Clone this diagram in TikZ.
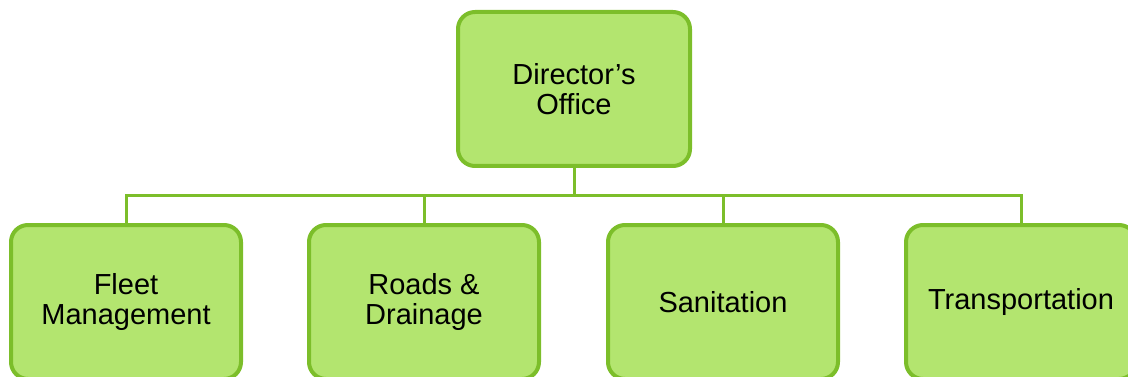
\documentclass[tikz,border=0pt]{standalone}
\usepackage{fontspec}
\setmainfont{Liberation Sans}
\usepackage{xcolor}
\usetikzlibrary{positioning}

\definecolor{boxfill}{RGB}{179,229,111}
\definecolor{boxline}{RGB}{124,190,42}

\begin{document}
\begin{tikzpicture}[
  x=1pt, y=-1pt,
  font=\fontsize{29}{30}\selectfont,
  unit/.style={rectangle, rounded corners=17pt, draw=boxline, line width=4pt,
               fill=boxfill, minimum width=230pt, minimum height=154pt,
               align=center, inner sep=0pt},
  link/.style={draw=boxline, line width=3pt}
]
\useasboundingbox (0,0) rectangle (1128,377);

% ---- Top ----
\node[unit, minimum width=232pt] (dir) at (574,89) {Director’s\\Office};

% ---- Divisions row (bottom) ----
\node[unit] (fleet) at (126,302) {Fleet\\Management};
\node[unit, on grid, right=298pt of fleet] (roads) {Roads \&\\Drainage};
\node[unit, on grid, right=299pt of roads] (sanit) {Sanitation};
\node[unit, on grid, right=298pt of sanit] (trans) {Transportation};

% ---- Connectors ----
\coordinate (bus) at (574,196);
\foreach \n in {fleet,roads,sanit,trans}
  \draw[link] (dir.south) -- (bus) -| (\n.north);

\end{tikzpicture}
\end{document}
